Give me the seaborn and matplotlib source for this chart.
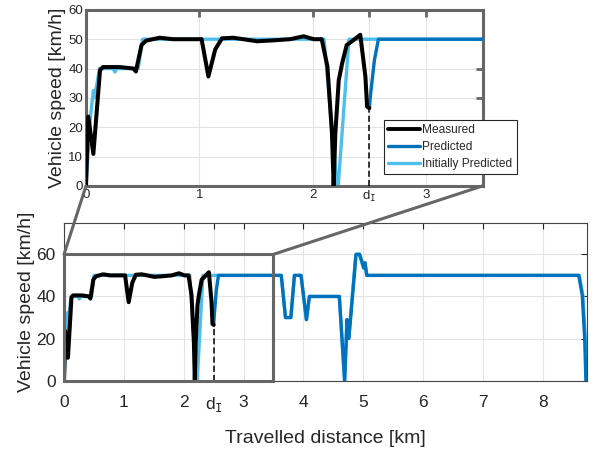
import numpy as np
import pandas as pd
import matplotlib
matplotlib.use('Agg')
import matplotlib.pyplot as plt
from matplotlib.patches import Rectangle, ConnectionPatch
from matplotlib.lines import Line2D
import seaborn as sns

# measured speed, up to the point d_I
measured_x = [0, 0.02, 0.065, 0.124, 0.15, 0.30, 0.42, 0.44, 0.49, 0.53, 0.65, 0.77, 0.94, 1.02,
              1.08, 1.14, 1.20, 1.30, 1.51, 1.65, 1.80, 1.92, 2.01, 2.08, 2.13, 2.17, 2.185, 2.20,
              2.23, 2.26, 2.30, 2.35, 2.42, 2.465, 2.48, 2.50]
measured_y = [0, 23.6, 10.9, 39.5, 40.5, 40.5, 40, 39, 48, 49.5, 50.5, 50, 50, 50,
              37.3, 46.5, 50.3, 50.5, 49.3, 49.6, 50, 51, 50, 50, 40.7, 18, 0, 18,
              36, 41.8, 48, 49.4, 51.5, 37.3, 27, 26.5]

# predicted speed after d_I
predicted_x = [2.50, 2.51, 2.545, 2.58, 3.63, 3.70, 3.79, 3.85, 3.96, 4.05, 4.10, 4.60, 4.69,
               4.73, 4.76, 4.88, 4.94, 5.01, 5.03, 5.06, 8.60, 8.66, 8.70, 8.72]
predicted_y = [26.5, 31, 43, 50, 50, 30, 30, 50, 50, 29, 40, 40, 0,
               29, 20, 60, 60, 53.5, 56, 50, 50, 40.5, 20, 0]

# initial prediction, whole route
initial_x = [0, 0.04, 0.065, 0.075, 0.12, 0.24, 0.255, 0.27, 0.46, 0.50, 2.10, 2.215, 2.225,
             2.32, 3.63, 3.70, 3.79, 3.85, 3.96, 4.05, 4.10, 4.60, 4.685, 4.725, 4.755, 4.875,
             4.935, 5.005, 5.025, 5.055, 8.61, 8.67, 8.71, 8.735]
initial_y = [0, 24, 32.5, 30, 40, 40, 38.8, 40, 40, 50, 50, 0, 0,
             50, 50, 30, 30, 50, 50, 29, 40, 40, 0, 29, 20, 60,
             60, 53.5, 56, 50, 50, 40.5, 20, 0]

d_i = 2.5
x_ticks_main = [0, 1, 2, 2.5, 3, 4, 5, 6, 7, 8]
x_ticks_zoom = [0, 1, 2, 2.5, 3]
y_ticks_main = [0, 20, 40, 60]
y_ticks_zoom = [0, 10, 20, 30, 40, 50, 60]

blue = '#0072BD'
light_blue = '#4DBEEE'
frame_gray = '#666666'
text_col = '#262626'

sns.set_style('whitegrid')
plt.rcParams['font.family'] = ['Liberation Sans', 'DejaVu Sans']
plt.rcParams['mathtext.fontset'] = 'dejavusans'

fig = plt.figure(figsize=(5.93, 4.49), dpi=100)
ax = fig.add_axes([0.108, 0.152, 0.882, 0.352])
axin = fig.add_axes([0.145, 0.586, 0.669, 0.392])

meas = pd.DataFrame({'x': measured_x, 'y': measured_y})
pred = pd.DataFrame({'x': predicted_x, 'y': predicted_y})
init = pd.DataFrame({'x': initial_x, 'y': initial_y})

di_label = r'$\mathregular{d}_\mathtt{I}$'

for a in [ax, axin]:
    sns.lineplot(data=init, x='x', y='y', ax=a, color=light_blue, lw=2.4, estimator=None,
                 sort=False, zorder=2)
    sns.lineplot(data=pred, x='x', y='y', ax=a, color=blue, lw=2.4, estimator=None,
                 sort=False, zorder=3)
    sns.lineplot(data=meas, x='x', y='y', ax=a, color='black', lw=2.9, estimator=None,
                 sort=False, zorder=4)
    a.plot([d_i, d_i], [0, measured_y[-1]], color='black', lw=1.1, dashes=(4, 2), zorder=5)
    a.set_xlabel('')
    a.grid(True, color='#e3e3e3', lw=0.8)
    a.set_axisbelow(True)

# main axes
ax.set_xlim(0, 8.74)
ax.set_ylim(0, 75)
ax.set_xticks(x_ticks_main)
ax.set_xticklabels([di_label if t == d_i else f'{t:g}' for t in x_ticks_main])
ax.set_yticks(y_ticks_main)
ax.tick_params(direction='in', top=True, right=True, length=4, width=0.8,
               color=text_col, labelcolor=text_col, labelsize=12.5, pad=6)
ax.tick_params(axis='x', pad=10)
for s in ax.spines.values():
    s.set_color('#444444')
    s.set_linewidth(0.8)
ax.set_xlabel('Travelled distance [km]', fontsize=14, color=text_col, labelpad=12)
ax.set_ylabel('Vehicle speed [km/h]', fontsize=14, color=text_col, labelpad=1)

# zoom axes
axin.set_xlim(0, 3.5)
axin.set_ylim(0, 60)
axin.set_xticks(x_ticks_zoom)
axin.set_xticklabels([di_label if t == d_i else f'{t:g}' for t in x_ticks_zoom])
axin.set_yticks(y_ticks_zoom)
axin.tick_params(direction='in', top=True, right=True, length=5, width=2,
                 color=frame_gray, labelcolor=text_col, labelsize=9.5, pad=2)
for s in axin.spines.values():
    s.set_color(frame_gray)
    s.set_linewidth(2.2)
axin.set_ylabel('Vehicle speed [km/h]', fontsize=14, color=text_col, labelpad=2)

# zoom box and connectors
ax.add_patch(Rectangle((0, 0), 3.5, 60, fill=False, ec=frame_gray, lw=2.2,
                       zorder=6, clip_on=False))
for xa, xb in [(0, 0), (3.5, 1)]:
    con = ConnectionPatch(xyA=(xa, 60), coordsA=ax.transData,
                          xyB=(xb, 0), coordsB=axin.transAxes,
                          color=frame_gray, lw=2.2)
    fig.add_artist(con)

# legend
leg_handles = [Line2D([], [], color='black', lw=2.8),
               Line2D([], [], color=blue, lw=2.4),
               Line2D([], [], color=light_blue, lw=2.4)]
leg = fig.legend(leg_handles, ['Measured', 'Predicted', 'Initially Predicted'],
                 loc='upper left', bbox_to_anchor=(0.6476, 0.7327),
                 bbox_transform=fig.transFigure, borderaxespad=0, fancybox=False,
                 framealpha=1, edgecolor=text_col, fontsize=8.6, handlelength=2.7,
                 handletextpad=0.15, labelspacing=0.42, borderpad=0.35, labelcolor=text_col)
leg.get_frame().set_linewidth(0.8)

fig.savefig('out.png', dpi=100)
